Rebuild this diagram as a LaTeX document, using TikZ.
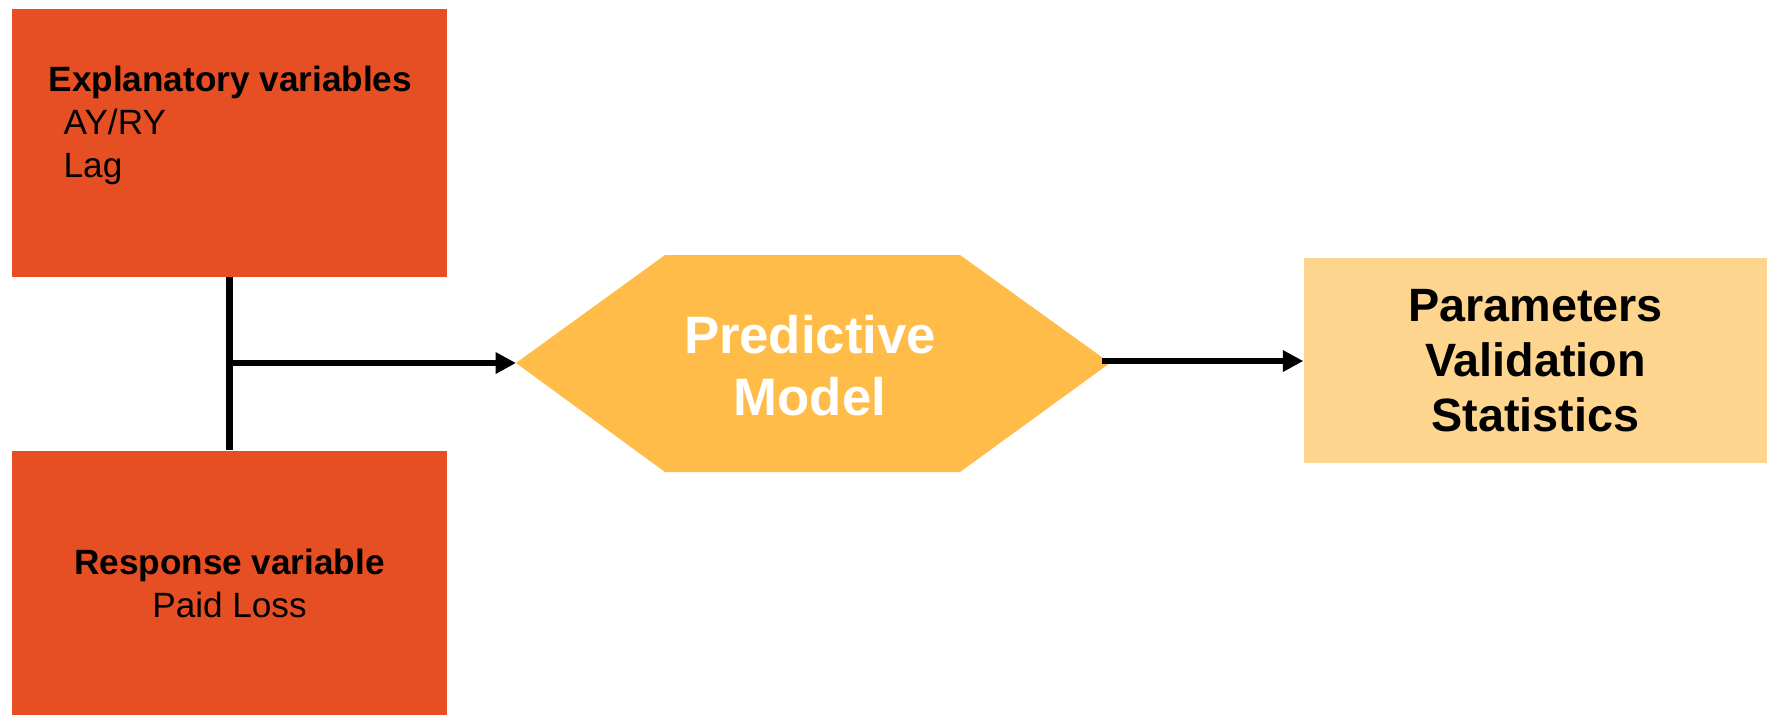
\documentclass[tikz,border=0pt]{standalone}
\usepackage{fontspec}
\setmainfont{Liberation Sans}
\usetikzlibrary{arrows.meta}
\definecolor{boxred}{HTML}{E64E23}
\definecolor{modelyellow}{HTML}{FFBC48}
\definecolor{resultsand}{HTML}{FDD58E}

\begin{document}
\begin{tikzpicture}[
    redbox/.style={fill=boxred, inner sep=0pt, minimum width=4.35cm},
    boxtext/.style={anchor=base west, inner sep=0pt, font=\fontsize{10}{12.2}\selectfont},
    flow/.style={line width=1.9pt, -{Triangle[length=5.8pt,width=5.8pt]}},
]
    \useasboundingbox (0,0) rectangle (17.67,-7.15);

    % Input Boxes
    % -----------
    \node[redbox, minimum height=2.68cm] (expl) at (2.295,-1.425) {};
    \node[redbox, minimum height=2.64cm, align=center,
          font=\fontsize{10}{12.2}\selectfont] (resp) at (2.295,-5.83)
          {\textbf{Response variable}\\Paid Loss};

    \node[boxtext, font=\fontsize{10}{12.2}\selectfont\bfseries] (expltitle) at (0.48,-0.91) {Explanatory variables};
    \node[boxtext] (ayry) at (0.63,-1.34) {AY/RY};
    \node[boxtext] (lag)  at (0.63,-1.77) {Lag};

    % Model
    % -----
    \coordinate (hexL) at (5.16,-3.63);
    \coordinate (hexR) at (11.10,-3.63);
    \fill[modelyellow] (hexL) -- (6.65,-2.55) -- (9.60,-2.55) -- (hexR)
        -- (9.60,-4.72) -- (6.65,-4.72) -- cycle;
    \node[white, align=center, font=\fontsize{15}{17.6}\selectfont\bfseries] (model) at (8.10,-3.66) {Predictive\\Model};
    \coordinate (hexout) at (11.02,-3.61);

    % Results
    % -------
    \node[fill=resultsand, minimum width=4.63cm, minimum height=2.05cm, align=center,
          font=\fontsize{13.3}{15.6}\selectfont\bfseries] (results) at (15.355,-3.605)
          {Parameters\\Validation\\Statistics};

    % Draw Paths
    % ----------
    \coordinate (join) at (expl.south |- hexL);
    \draw[line width=1.9pt] (expl.south) -- (resp.north);
    \draw[flow] (join) -- (hexL);
    \draw[flow] (hexout) -- (hexout -| results.west);

\end{tikzpicture}
\end{document}
